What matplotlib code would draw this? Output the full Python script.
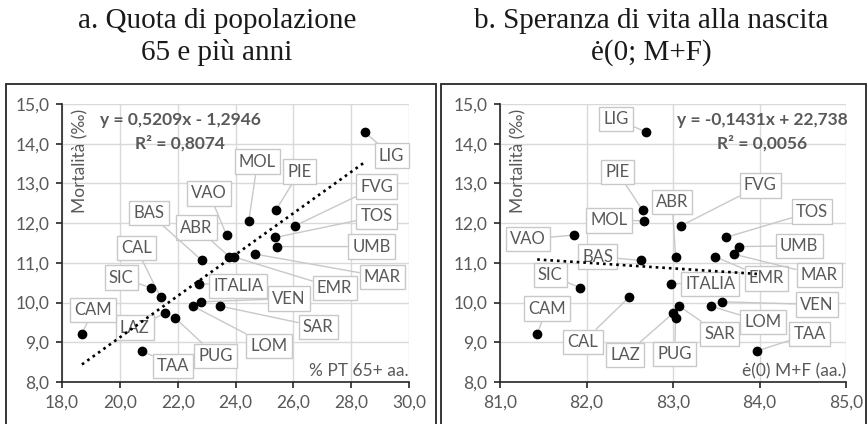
import matplotlib
matplotlib.use("Agg")
import matplotlib.pyplot as plt
from matplotlib.patches import Rectangle
import numpy as np

plt.rcParams["font.family"] = ["Lato", "DejaVu Sans"]

# regioni e valori
regions = ["LIG", "MOL", "PIE", "FVG", "VAO", "TOS", "UMB", "ABR", "EMR", "MAR",
           "BAS", "ITALIA", "SIC", "CAL", "VEN", "LOM", "SAR", "LAZ", "PUG", "CAM", "TAA"]
mortality = [14.29, 12.06, 12.32, 11.93, 11.70, 11.64, 11.41, 11.16, 11.15, 11.22,
             11.06, 10.48, 10.37, 10.13, 10.02, 9.91, 9.91, 9.73, 9.62, 9.21, 8.78]
share_65 = [28.47, 24.46, 25.39, 26.05, 23.69, 25.38, 25.42, 23.78, 23.94, 24.68,
            22.84, 22.75, 21.07, 21.41, 22.80, 22.53, 23.48, 21.56, 21.90, 18.69, 20.78]
life_exp = [82.69, 82.67, 82.65, 83.09, 81.86, 83.61, 83.76, 83.03, 83.49, 83.70,
            82.63, 82.98, 81.93, 82.49, 83.57, 83.44, 83.07, 83.00, 83.03, 81.43, 83.97]

# posizioni delle etichette (centro del riquadro, in coordinate dati)
labels_a = {
    "LIG": (29.40, 13.70), "MOL": (24.76, 13.55), "PIE": (26.22, 13.30), "FVG": (28.88, 12.92),
    "VAO": (23.09, 12.75), "TOS": (28.88, 12.17), "BAS": (21.01, 12.25), "ABR": (22.65, 11.89),
    "CAL": (20.57, 11.37), "UMB": (28.70, 11.41), "MAR": (29.08, 10.65), "SIC": (20.05, 10.63),
    "ITALIA": (24.09, 10.42), "EMR": (27.43, 10.37), "VEN": (25.85, 10.10), "CAM": (19.07, 9.81),
    "SAR": (26.86, 9.39), "LAZ": (20.51, 9.37), "LOM": (25.16, 8.91), "PUG": (23.32, 8.66),
    "TAA": (21.84, 8.41),
}
labels_b = {
    "LIG": (82.34, 14.63), "PIE": (82.36, 13.28), "ABR": (82.99, 12.54), "FVG": (84.01, 12.95),
    "MOL": (82.26, 12.07), "TOS": (84.61, 12.29), "VAO": (81.32, 11.60), "UMB": (84.46, 11.43),
    "BAS": (82.13, 11.16), "SIC": (81.58, 10.69), "MAR": (84.69, 10.69), "EMR": (84.08, 10.61),
    "ITALIA": (83.43, 10.47), "CAM": (81.54, 9.85), "VEN": (84.66, 9.95), "LOM": (84.04, 9.51),
    "SAR": (83.54, 9.21), "TAA": (84.58, 9.21), "CAL": (81.96, 9.01), "LAZ": (82.45, 8.68),
    "PUG": (83.02, 8.71),
}

GRAY = "#595959"
LIGHT = "#C8C8C8"


def fmt(v):
    return f"{v:.1f}".replace(".", ",")


def draw_panel(ax, x, y, labels, xlim, xticks, slope, intercept, r2, eq, xlabel):
    x = np.asarray(x)
    ax.set_xlim(*xlim)
    ax.set_ylim(8, 15)
    ax.set_xticks(xticks)
    ax.set_yticks(np.arange(8, 15.1, 1))
    ax.set_xticklabels([fmt(t) for t in xticks])
    ax.set_yticklabels([fmt(t) for t in np.arange(8, 15.1, 1)])
    ax.grid(True, color="#D9D9D9", lw=1)
    ax.set_axisbelow(True)
    for s in ("top", "right"):
        ax.spines[s].set_visible(False)
    for s in ("left", "bottom"):
        ax.spines[s].set_color("#262626")
        ax.spines[s].set_linewidth(1.2)
    ax.tick_params(colors=GRAY, labelsize=12.5, length=4, width=1.2, pad=5)
    ax.tick_params(axis="both", color="#262626")

    for name, xv, yv in zip(regions, x, mortality):
        lx, ly = labels[name]
        ax.annotate(name, (xv, yv), xytext=(lx, ly), textcoords="data",
                    ha="center", va="center", fontsize=12, color=GRAY, zorder=3,
                    bbox=dict(boxstyle="square,pad=0.25", fc="white", ec=LIGHT, lw=1),
                    arrowprops=dict(arrowstyle="-", color=LIGHT, lw=1, shrinkA=0, shrinkB=2))
    ax.scatter(x, y, s=36, color="black", zorder=4, clip_on=False)

    xs = np.array([x.min(), x.max()])
    ax.plot(xs, slope * xs + intercept, color="black", lw=1.9,
            linestyle=(0, (1, 1.5)), zorder=5)

    ax.text(eq[0], eq[1], f"y = {eq[2]}", transform=ax.transAxes, ha="center",
            va="center", fontsize=12.5, fontweight="bold", color=GRAY, zorder=6)
    ax.text(eq[0], eq[1] - 0.083, f"R² = {r2}", transform=ax.transAxes, ha="center",
            va="center", fontsize=12.5, fontweight="bold", color=GRAY, zorder=6)
    ax.text(0.052, 0.795, "Mortalità (‰)", transform=ax.transAxes, rotation=90,
            ha="center", va="center", fontsize=12.5, color=GRAY)
    ax.text(1.0, 0.04, xlabel, transform=ax.transAxes, ha="right", va="center",
            fontsize=12.5, color=GRAY)


fig = plt.figure(figsize=(8.68, 4.24), dpi=100)

ax_a = fig.add_axes([62 / 868, 1 - 382 / 424, 347 / 868, 278 / 424])
ax_b = fig.add_axes([500 / 868, 1 - 382 / 424, 346 / 868, 278 / 424])

draw_panel(ax_a, share_65, mortality, labels_a, (18, 30), np.arange(18, 30.1, 2),
           0.5209, -1.2946, "0,8074", (0.34, 0.942, "0,5209x - 1,2946"), "% PT 65+ aa.")
draw_panel(ax_b, life_exp, mortality, labels_b, (81, 85), np.arange(81, 85.1, 1),
           -0.1431, 22.738, "0,0056", (0.757, 0.942, "-0,1431x + 22,738"), "ė(0) M+F (aa.)")

# bordi dei due riquadri
for x0, x1 in ((6, 436), (441, 866)):
    fig.add_artist(Rectangle((x0 / 868, -0.01), (x1 - x0) / 868, 1.01 - 84 / 424,
                             transform=fig.transFigure, fill=False, ec="#262626", lw=1.3))

title_font = dict(family=["Liberation Serif", "DejaVu Serif"], fontsize=21, color="#1a1a1a",
                  ha="center", va="center")
fig.text(217 / 868, 1 - 21 / 424, "a. Quota di popolazione", **title_font)
fig.text(217 / 868, 1 - 53 / 424, "65 e più anni", **title_font)
fig.text(651 / 868, 1 - 21 / 424, "b. Speranza di vita alla nascita", **title_font)
fig.text(651 / 868, 1 - 53 / 424, "ė(0; M+F)", **title_font)

fig.savefig("out.png", dpi=100)
